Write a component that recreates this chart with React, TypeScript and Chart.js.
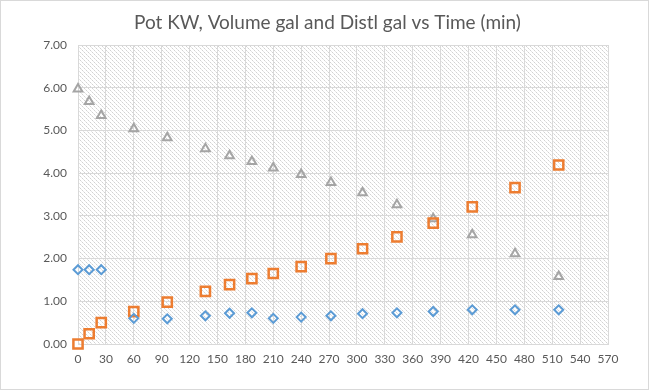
import React, { useEffect, useRef } from "react";
import { Chart, registerables } from "chart.js";

Chart.register(...registerables);

const chartTitle = "Pot KW, Volume gal and Distl gal vs Time (min)";
const timeMin = [0, 12, 25, 60, 96, 137, 163, 187, 210, 240, 272, 306, 343, 382, 424, 470, 517];
const potKw = [1.74, 1.74, 1.74, 0.6, 0.59, 0.66, 0.72, 0.73, 0.6, 0.63, 0.66, 0.71, 0.73, 0.76, 0.8, 0.8, 0.8];
const distlGal = [0.0, 0.24, 0.5, 0.76, 0.98, 1.23, 1.39, 1.53, 1.65, 1.81, 2.0, 2.23, 2.51, 2.83, 3.21, 3.66, 4.19];
const volumeGal = [5.97, 5.68, 5.35, 5.04, 4.83, 4.57, 4.41, 4.27, 4.12, 3.97, 3.78, 3.54, 3.26, 2.93, 2.56, 2.11, 1.58];
const seriesNames = ["Pot KW", "Distl gal", "Volume gal"];

const toPoints = (ys: number[]) => timeMin.map((x, i) => ({ x, y: ys[i] }));

const FONT = "Lato, 'Open Sans', sans-serif";
const TEXT = "#595959";
const GRID = "#d9d9d9";

function makePattern(ctx: CanvasRenderingContext2D) {
  const c = document.createElement("canvas");
  c.width = 8;
  c.height = 8;
  const p = c.getContext("2d")!;
  p.fillStyle = "#ffffff";
  p.fillRect(0, 0, 8, 8);
  for (let i = 0; i < 8; i++) {
    p.fillStyle = i % 2 === 0 ? "#d2d2d2" : "#e6e6e6";
    p.fillRect(i, i, 1, 1);
    p.fillRect((i + 4) % 8, i, 1, 1);
  }
  return ctx.createPattern(c, "repeat");
}

const bgPlugin = {
  id: "hatchBg",
  beforeDraw(chart: any) {
    const { ctx, chartArea, width, height } = chart;
    ctx.save();
    ctx.fillStyle = "#ffffff";
    ctx.fillRect(0, 0, width, height);
    const pat = makePattern(ctx);
    if (pat) {
      ctx.fillStyle = pat;
      ctx.fillRect(chartArea.left, chartArea.top, chartArea.right - chartArea.left, chartArea.bottom - chartArea.top);
    }
    ctx.restore();
  },
  afterDraw(chart: any) {
    const { ctx, width, height } = chart;
    ctx.save();
    ctx.fillStyle = TEXT;
    ctx.font = `19px ${FONT}`;
    ctx.textAlign = "center";
    ctx.textBaseline = "middle";
    ctx.fillText(chartTitle, width / 2 + 3, 23);
    ctx.strokeStyle = "#d9d9d9";
    ctx.lineWidth = 1;
    ctx.strokeRect(0.5, 0.5, width - 1, height - 1);
    ctx.restore();
  },
};

export default function App() {
  const ref = useRef<HTMLCanvasElement | null>(null);
  useEffect(() => {
    document.body.style.margin = "0";
    const canvas = ref.current!;
    const chart = new Chart(canvas, {
      type: "scatter",
      data: {
        datasets: [
          {
            label: seriesNames[0],
            data: toPoints(potKw),
            pointStyle: "rectRot",
            pointRadius: 4.5,
            borderColor: "#5b9bd5",
            backgroundColor: "rgba(0,0,0,0)",
            pointBorderWidth: 2,
            clip: false,
          },
          {
            label: seriesNames[1],
            data: toPoints(distlGal),
            pointStyle: "rect",
            pointRadius: 6.5,
            borderColor: "#ed7d31",
            backgroundColor: "rgba(0,0,0,0)",
            pointBorderWidth: 2.5,
            clip: false,
          },
          {
            label: seriesNames[2],
            data: toPoints(volumeGal),
            pointStyle: "triangle",
            pointRadius: 5,
            borderColor: "#a5a5a5",
            backgroundColor: "rgba(0,0,0,0)",
            pointBorderWidth: 2,
            clip: false,
          },
        ],
      },
      options: {
        animation: false,
        responsive: false,
        layout: { padding: { left: 0, right: 41, top: 45, bottom: 0 } },
        plugins: {
          legend: { display: false },
          tooltip: { enabled: false },
          title: { display: false },
        },
        scales: {
          x: {
            type: "linear",
            min: 0,
            max: 570,
            ticks: { stepSize: 30, color: TEXT, font: { family: FONT, size: 12 }, padding: 8, maxRotation: 0 },
            grid: { color: GRID, drawTicks: false },
            border: { color: GRID },
            afterFit: (s: any) => {
              s.height = 46;
            },
          },
          y: {
            type: "linear",
            min: 0,
            max: 7,
            ticks: {
              stepSize: 1,
              color: TEXT,
              font: { family: FONT, size: 12 },
              padding: 11,
              callback: (v: any) => Number(v).toFixed(2),
            },
            grid: { color: GRID, drawTicks: false },
            border: { color: GRID },
            afterFit: (s: any) => {
              s.width = 78;
            },
          },
        },
      },
      plugins: [bgPlugin],
    });
    return () => chart.destroy();
  }, []);
  return (
    <div style={{ width: 649, height: 390 }}>
      <canvas ref={ref} width={649} height={390} style={{ display: "block" }} />
    </div>
  );
}
